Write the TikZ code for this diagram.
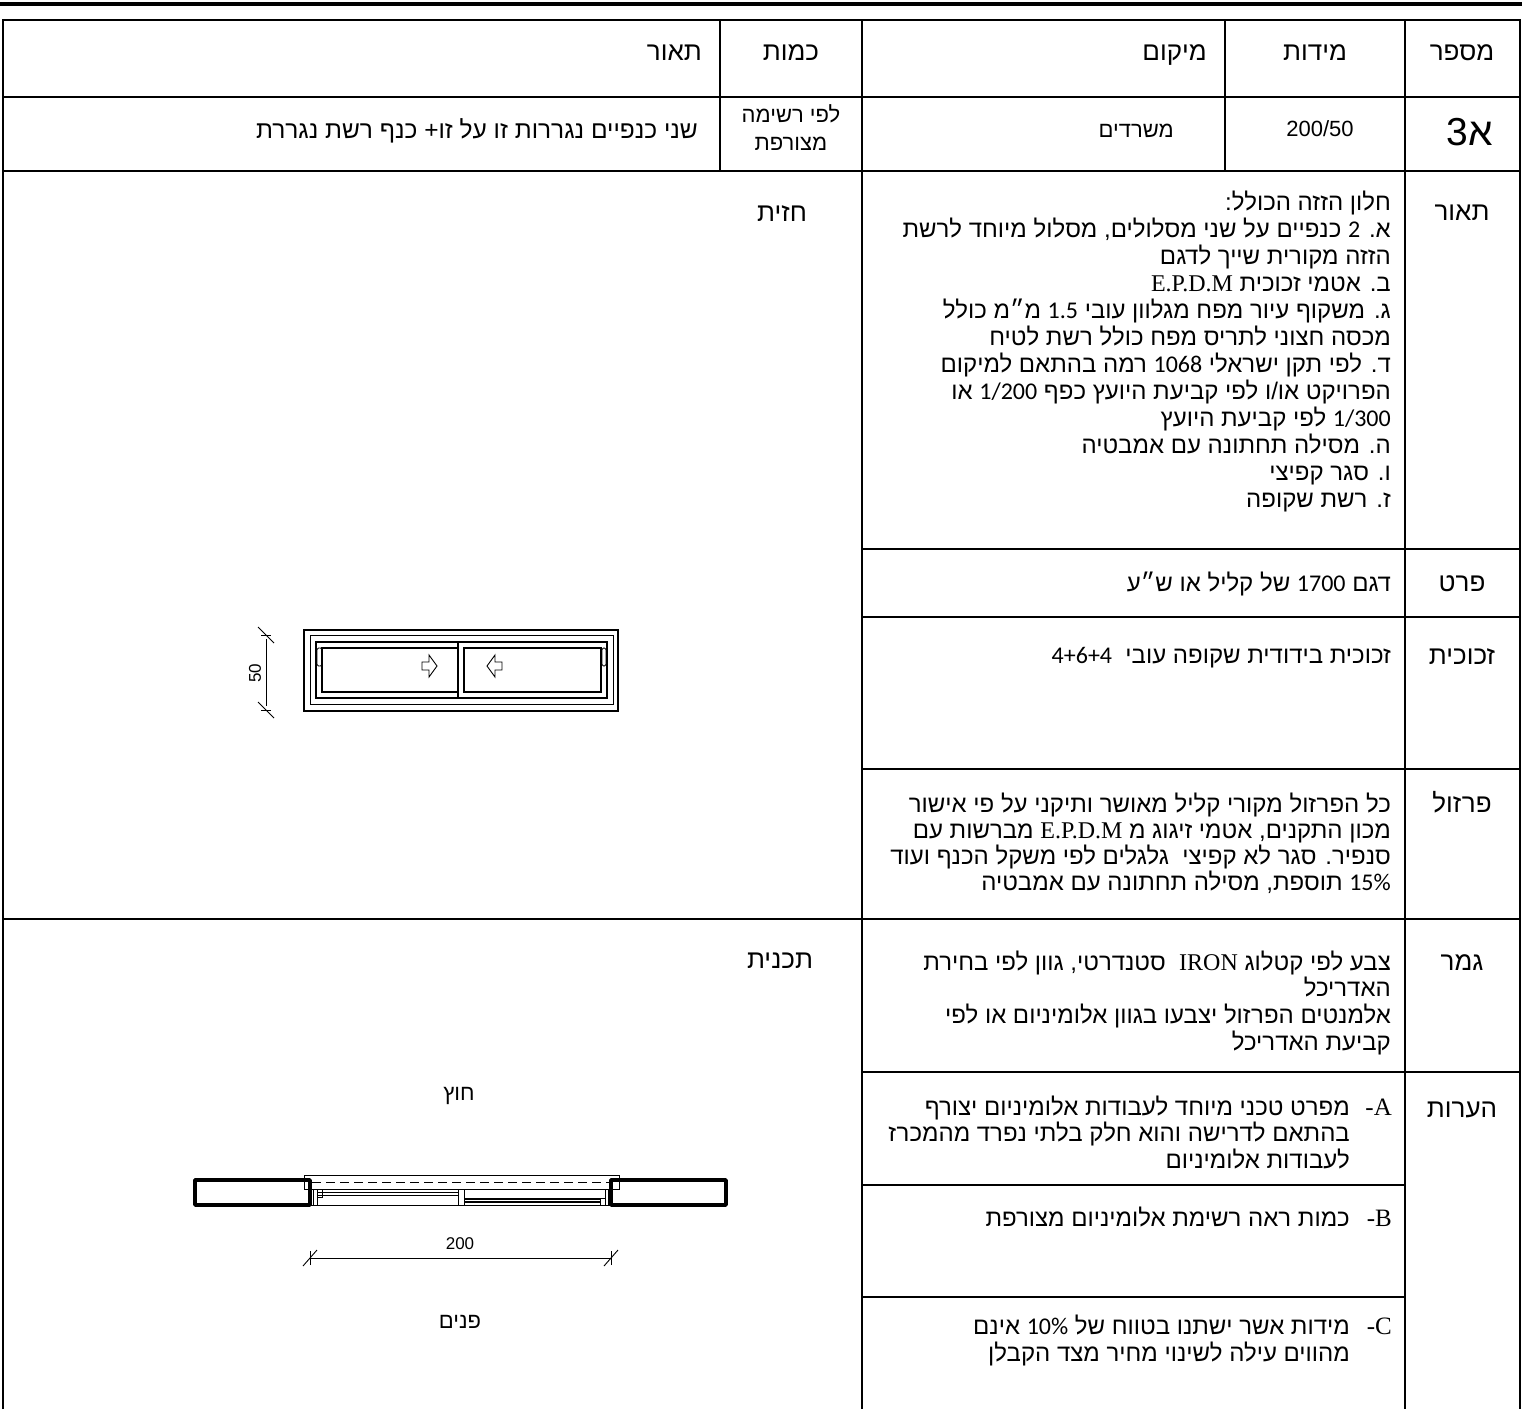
\documentclass[tikz,border=0pt]{standalone}
\usepackage{fontspec}
\setmainfont{Liberation Serif}
\setsansfont{Liberation Sans}
\newfontfamily\heb[Script=Hebrew]{Liberation Sans}
\newfontfamily\numf{Carlito}
\TeXXeTstate=1
\newcommand\RL[1]{\beginR #1\endR}
\newcommand\lat[1]{{\rmfamily\fontsize{24}{26}\selectfont #1}}
\newcommand\nm[1]{{\numf #1}}
\begin{document}
\begin{tikzpicture}[x=1pt,y=-1pt,
  grid/.style={line width=2.6pt},
  thinl/.style={line width=0.9pt},
  medl/.style={line width=1.5pt},
  wall/.style={line width=3.5pt, line join=round},
  head/.style={font=\heb\fontsize{26}{30}\selectfont, inner sep=0pt, anchor=base},
  headr/.style={font=\heb\fontsize{26}{30}\selectfont, inner sep=0pt, anchor=base east},
  body/.style={font=\heb\fontsize{24}{27}\selectfont, inner sep=0pt, anchor=base east},
  bodyc/.style={font=\heb\fontsize{22}{26}\selectfont, inner sep=0pt, anchor=base},
  lett/.style={font=\rmfamily\fontsize{25}{27}\selectfont, inner sep=0pt, anchor=base east},
  dimtxt/.style={font=\sffamily\fontsize{17}{20}\selectfont, inner sep=0pt},
]
\useasboundingbox (0,0) rectangle (1522,1409);
% top rule
\draw[line width=4pt] (0,4) -- (1522,4);
% table grid
\draw[grid] (3,1409) -- (3,20) -- (1520,20) -- (1520,1409);
\draw[grid] (3,97) -- (1520,97);
\draw[grid] (3,171) -- (1520,171);
\draw[grid] (3,919) -- (1520,919);
\draw[grid] (862,549) -- (1520,549);
\draw[grid] (862,617) -- (1520,617);
\draw[grid] (862,769) -- (1520,769);
\draw[grid] (862,1072) -- (1520,1072);
\draw[grid] (862,1185) -- (1405,1185);
\draw[grid] (862,1297) -- (1405,1297);
\draw[grid] (720,20) -- (720,171);
\draw[grid] (1225,20) -- (1225,171);
\draw[grid] (862,20) -- (862,1409);
\draw[grid] (1405,20) -- (1405,1409);

% header row
\node[head] (hnum) at (1462,60) {\RL{מספר}};
\node[head] (hdim) at (1315,60) {\RL{מידות}};
\node[headr] (hloc) at (1207,60) {\RL{מיקום}};
\node[head] (hqty) at (791,60) {\RL{כמות}};
\node[headr] (hdesc) at (702,60) {\RL{תאור}};

% second row
\node[font=\heb\fontsize{39}{44}\selectfont, inner sep=0pt, anchor=base] (rnum) at (1470,145) {\RL{א3}};
\node[font=\sffamily\fontsize{22}{26}\selectfont, inner sep=0pt, anchor=base] (rdim) at (1320,136) {200/50};
\node[font=\heb\fontsize{22}{26}\selectfont, inner sep=0pt, anchor=base east] (rloc) at (1174,137) {\RL{משרדים}};
\node[bodyc] (rqty1) at (791,122) {\RL{לפי רשימה}};
\node[bodyc] (rqty2) at (791,150) {\RL{מצורפת}};
\node[font=\heb\fontsize{24.5}{28}\selectfont, inner sep=0pt, anchor=base east] (rdesc) at (698,138) {\RL{שני כנפיים נגררות זו על זו+ כנף רשת נגררת}};

% right column labels
\node[head] (ldesc) at (1462,220) {\RL{תאור}};
\node[head] (lpart) at (1462,591) {\RL{פרט}};
\node[head] (lglass) at (1462,664) {\RL{זכוכית}};
\node[head] (lhw) at (1462,812) {\RL{פרזול}};
\node[head] (lfin) at (1462,970) {\RL{גמר}};
\node[head] (lnote) at (1462,1117) {\RL{הערות}};

% description block
\node[body] (d1) at (1391,210) {\RL{חלון הזזה הכולל:}};
\node[body] (d2) at (1391,237) {\RL{א. \nm{2} כנפיים על שני מסלולים, מסלול מיוחד לרשת}};
\node[body] (d3) at (1391,264) {\RL{הזזה מקורית שייך לדגם}};
\node[body] (d4) at (1391,291) {\RL{ב. אטמי זכוכית \lat{E.P.D.M}}};
\node[body] (d5) at (1391,318) {\RL{ג. משקוף עיור מפח מגלוון עובי \nm{1.5} מ״מ כולל}};
\node[body] (d6) at (1391,345) {\RL{מכסה חצוני לתריס מפח כולל רשת לטיח}};
\node[body] (d7) at (1391,372) {\RL{ד. לפי תקן ישראלי \nm{1068} רמה בהתאם למיקום}};
\node[body] (d8) at (1391,399) {\RL{הפרויקט או/ו לפי קביעת היועץ כפף \nm{1/200} או}};
\node[body] (d9) at (1391,426) {\RL{\nm{1/300} לפי קביעת היועץ}};
\node[body] (d10) at (1391,453) {\RL{ה. מסילה תחתונה עם אמבטיה}};
\node[body] (d11) at (1391,480) {\RL{ו. סגר קפיצי}};
\node[body] (d12) at (1391,507) {\RL{ז. רשת שקופה}};

\node[body] (p1) at (1391,591) {\RL{דגם \nm{1700} של קליל או ש״ע}};
\node[body] (g1) at (1391,663) {\RL{זכוכית בידודית שקופה עובי \ \nm{4+6+4}}};

\node[body] (h1) at (1391,812) {\RL{כל הפרזול מקורי קליל מאושר ותיקני על פי אישור}};
\node[body] (h2) at (1391,838) {\RL{מכון התקנים, אטמי זיגוג מ \lat{E.P.D.M} מברשות עם}};
\node[body] (h3) at (1391,864) {\RL{סנפיר. סגר לא קפיצי \ גלגלים לפי משקל הכנף ועוד}};
\node[body] (h4) at (1391,890) {\RL{\nm{15\%} תוספת, מסילה תחתונה עם אמבטיה}};

\node[body] (f1) at (1391,970) {\RL{צבע לפי קטלוג \lat{IRON} \ סטנדרטי, גוון לפי בחירת}};
\node[body] (f2) at (1391,996) {\RL{האדריכל}};
\node[body] (f3) at (1391,1023) {\RL{אלמנטים הפרזול יצבעו בגוון אלומיניום או לפי}};
\node[body] (f4) at (1391,1050) {\RL{קביעת האדריכל}};

\node[lett] (nA) at (1392,1115) {-A};
\node[body] (a1) at (1350,1115) {\RL{מפרט טכני מיוחד לעבודות אלומיניום יצורף}};
\node[body] (a2) at (1350,1141) {\RL{בהתאם לדרישה והוא חלק בלתי נפרד מהמכרז}};
\node[body] (a3) at (1350,1168) {\RL{לעבודות אלומיניום}};
\node[lett] (nB) at (1392,1226) {-B};
\node[body] (b1) at (1350,1226) {\RL{כמות ראה רשימת אלומיניום מצורפת}};
\node[lett] (nC) at (1392,1334) {-C};
\node[body] (c1) at (1350,1334) {\RL{מידות אשר ישתנו בטווח של \nm{10\%} אינם}};
\node[body] (c2) at (1350,1361) {\RL{מהווים עילה לשינוי מחיר מצד הקבלן}};

% left labels
\node[head] (lel) at (782,221) {\RL{חזית}};
\node[head] (lpl) at (780,968) {\RL{תכנית}};

% elevation drawing
\draw[medl] (304,630) rectangle (618,711);
\draw[thinl] (310,635) rectangle (613,704);
\draw[medl] (316,642) rectangle (607,698);
\draw[medl] (458,642) -- (458,698);
\draw[medl] (322,648) rectangle (458,692);
\draw[medl] (464,648) rectangle (601,692);
\draw[thinl, rounded corners=1.5pt] (317,648) rectangle (322,666);
\draw[thinl, rounded corners=1.5pt] (602,648) rectangle (606,666);
\draw[thinl] (422,662) -- (429,662) -- (429,655) -- (437,666) -- (429,677) -- (429,670) -- (422,670) -- cycle;
\draw[thinl] (502,662) -- (495,662) -- (495,655) -- (487,666) -- (495,677) -- (495,670) -- (502,670) -- cycle;
\coordinate (e50a) at (266,635);
\coordinate (e50b) at (266,710);
\draw[thinl] ([yshift=-4pt]e50a) -- ([yshift=4pt]e50b);
\draw[thinl] ([shift={(-8,-8)}]e50a) -- ([shift={(8,8)}]e50a);
\draw[thinl] ([shift={(-8,-8)}]e50b) -- ([shift={(8,8)}]e50b);
\draw[thinl] ([xshift=-5pt]e50a) -- ([xshift=5pt]e50a);
\draw[thinl] ([xshift=-5pt]e50b) -- ([xshift=5pt]e50b);
\node[dimtxt, rotate=90] (d50) at (255,673) {50};

% plan drawing
\node[font=\heb\fontsize{22}{26}\selectfont, inner sep=0pt] (out) at (459,1096) {\RL{חוץ}};
\node[font=\heb\fontsize{22}{26}\selectfont, inner sep=0pt] (ins) at (460,1322) {\RL{פנים}};
\draw[thinl] (304,1175) rectangle (619,1189);
\draw[thinl, dash pattern=on 9pt off 5pt] (312,1182) -- (609,1182);
\draw[wall] (195,1180) rectangle (310,1205);
\draw[wall] (611,1180) rectangle (726,1205);
\draw[thinl] (310,1189) rectangle (611,1205);
\draw[thinl] (313,1189) -- (313,1205);
\draw[thinl] (317,1189) -- (317,1205);
\draw[thinl] (458,1189) -- (458,1205);
\draw[thinl] (464,1189) -- (464,1205);
\draw[thinl] (605,1189) -- (605,1205);
\draw[thinl] (608,1189) -- (608,1205);
\draw[medl] (317,1192.5) -- (458,1192.5);
\draw[medl] (317,1195.5) -- (458,1195.5);
\draw[thinl] (317,1189) rectangle (322,1197);
\draw[medl] (464,1199) -- (601,1199);
\draw[medl] (464,1202) -- (601,1202);
\draw[thinl] (600,1198) rectangle (605,1205);
\coordinate (p200a) at (310,1258);
\coordinate (p200b) at (611,1258);
\draw[thinl] (p200a) -- (p200b);
\draw[thinl] ([shift={(-7,8)}]p200a) -- ([shift={(7,-8)}]p200a);
\draw[thinl] ([shift={(-7,8)}]p200b) -- ([shift={(7,-8)}]p200b);
\draw[thinl] ([yshift=-7pt]p200a) -- ([yshift=7pt]p200a);
\draw[thinl] ([yshift=-7pt]p200b) -- ([yshift=7pt]p200b);
\node[dimtxt] (t200) at (460,1244) {200};
\end{tikzpicture}
\end{document}
